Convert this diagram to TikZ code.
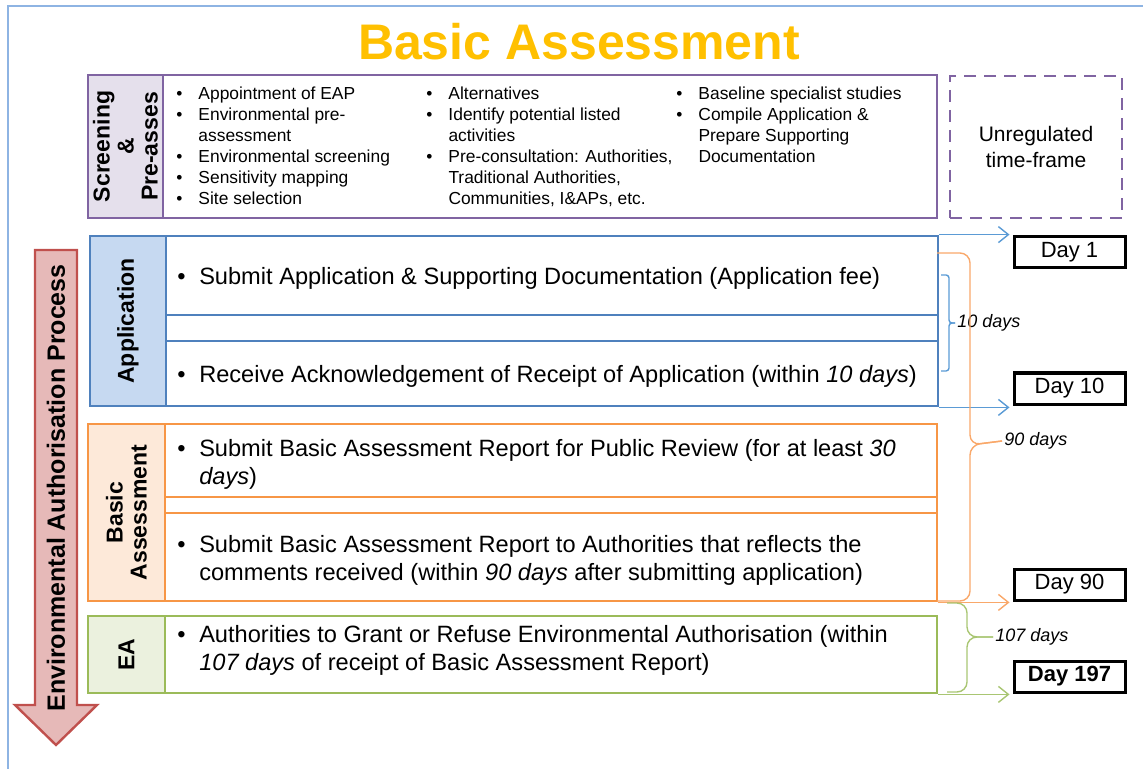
\documentclass[tikz,border=0pt]{standalone}
\usepackage{fontspec}
\setmainfont{Liberation Sans}
\usetikzlibrary{fit,positioning,arrows.meta}

\definecolor{gold}{HTML}{FFC000}
\definecolor{purp}{HTML}{8064A2}
\definecolor{purpfill}{HTML}{E5E0EC}
\definecolor{blu}{HTML}{4F81BD}
\definecolor{blufill}{HTML}{C6D9F1}
\definecolor{blulite}{HTML}{5B9BD5}
\definecolor{org}{HTML}{F79646}
\definecolor{orgfill}{HTML}{FDE9D9}
\definecolor{orglite}{HTML}{F9A86A}
\definecolor{grn}{HTML}{9BBB59}
\definecolor{grnfill}{HTML}{EBF1DE}
\definecolor{grnlite}{HTML}{A9C673}
\definecolor{arrred}{HTML}{C0504D}
\definecolor{arrfill}{HTML}{E6B9B8}
\definecolor{framebl}{HTML}{8EB4E3}

\newcommand{\bul}[2][6.8pt]{\begin{tabular}{@{}l@{\hspace{#1}}l@{}}#2\end{tabular}}

\begin{document}
\begin{tikzpicture}
		[x=0.5pt, y=-0.5pt,
		cell/.style = {draw, line width=1.4pt, inner sep=0pt},
		daybox/.style = {draw, line width=1.5pt, minimum width=55.5pt, minimum height=15.5pt, inner sep=0pt, font=\fontsize{11}{13}\selectfont},
		side/.style = {rotate=90, align=center, font=\fontsize{11.5}{12}\selectfont\bfseries},
		body/.style = {anchor=west, inner sep=0pt, font=\fontsize{11.8}{14}\selectfont},
		small/.style = {anchor=north west, inner sep=0pt, font=\fontsize{8.7}{10.5}\selectfont},
		span/.style = {anchor=west, inner sep=1pt, font=\fontsize{9}{11}\selectfont\itshape},
		thin/.style = {line width=0.7pt},
		tip/.style = {thin, -{Straight Barb[length=5pt, width=8pt]}, shorten >=1.5pt}]

		\useasboundingbox (0,0) rectangle (1143,769);
		\draw[framebl, line width=1pt] (8,769) -- (8,6) -- (1143,6);

		\node[text=gold, font=\fontsize{25}{30}\selectfont\bfseries] (title) at (579,42) {Basic Assessment};

		% screening
		\node[cell, draw=purp, fill=purpfill, fit={(88,75) (163,218)}] (scrlbl) {};
		\node[cell, draw=purp, fit={(88,75) (937,218)}] (scr) {};
		\node[side] (scrtxt) at (scrlbl.center) {Screening\\\&\\Pre-asses};
		\node[small] (col1) at (176,84) {\bul[8pt]{\textbullet & Appointment of EAP\\ \textbullet & Environmental pre-\\ & assessment\\ \textbullet & Environmental screening\\ \textbullet & Sensitivity mapping\\ \textbullet & Site selection}};
		\node[small] (col2) at (426,84) {\bul[8pt]{\textbullet & Alternatives\\ \textbullet & Identify potential listed\\ & activities\\ \textbullet & Pre-consultation: Authorities,\\ & Traditional Authorities,\\ & Communities, I\&APs, etc.}};
		\node[small] (col3) at (676,84) {\bul[8pt]{\textbullet & Baseline specialist studies\\ \textbullet & Compile Application \&\\ & Prepare Supporting\\ & Documentation}};
		\node[cell, draw=purp, dash pattern=on 6pt off 4pt, fit={(950,76) (1122,218)}] (unreg) {};
		\node[align=center, font=\fontsize{10.5}{13}\selectfont] (unregtxt) at (unreg.center) {Unregulated\\time-frame};

		% application
		\node[cell, draw=blu, fill=blufill, fit={(90,236) (166,406)}] (applbl) {};
		\node[cell, draw=blu, fit={(166,236) (938,315)}] (appa) {};
		\node[cell, draw=blu, fit={(166,341) (938,406)}] (appb) {};
		\node[cell, draw=blu, fit={(90,236) (938,406)}] (app) {};
		\node[side] (apptxt) at (applbl.center) {Application};
		\node[body] (appatxt) at (177,279) {\bul{\textbullet & Submit Application \& Supporting Documentation (Application fee)}};
		\node[body] (appbtxt) at (177,377) {\bul{\textbullet & Receive Acknowledgement of Receipt of Application (within \textit{10 days})}};

		% basic assessment
		\node[cell, draw=org, fill=orgfill, fit={(88,424) (165,601)}] (baslbl) {};
		\node[cell, draw=org, fit={(165,424) (937,497)}] (basa) {};
		\node[cell, draw=org, fit={(165,513) (937,601)}] (basb) {};
		\node[cell, draw=org, fit={(88,424) (937,601)}] (bas) {};
		\node[side] (bastxt) at (baslbl.center) {Basic\\Assessment};
		\node[body] (basatxt) at (177,465) {\bul{\textbullet & Submit Basic Assessment Report for Public Review (for at least \textit{30}\\ & \textit{days})}};
		\node[body] (basbtxt) at (177,561) {\bul{\textbullet & Submit Basic Assessment Report to Authorities that reflects the\\ & comments received (within \textit{90 days} after submitting application)}};

		% ea
		\node[cell, draw=grn, fill=grnfill, fit={(88,616) (165,693)}] (ealbl) {};
		\node[cell, draw=grn, fit={(88,616) (937,693)}] (ea) {};
		\node[side] (eatxt) at (ealbl.center) {EA};
		\node[body] (eadtxt) at (177,651) {\bul{\textbullet & Authorities to Grant or Refuse Environmental Authorisation (within\\ & \textit{107 days} of receipt of Basic Assessment Report)}};

		% process arrow
		\draw[draw=arrred, fill=arrfill, line width=1.2pt] (35,250) -- (77,250) -- (77,705) -- (97,705) -- (56,745) -- (15,705) -- (35,705) -- cycle;
		\node[font=\fontsize{12.5}{14}\selectfont\bfseries, rotate=90] (proc) at (56,488) {Environmental Authorisation Process};

		% days
		\node[daybox] (day1) at (1069.5,252.5) {Day 1};
		\node[daybox] (day10) [below = 51pt of day1] {Day 10};
		\node[daybox] (day90) [below = 81pt of day10] {Day 90};
		\node[daybox, font=\fontsize{11}{13}\selectfont\bfseries] (day197) [below = 29pt of day90] {Day 197};

		\draw[tip, blulite] (app.north east) -- (app.north east -| day1.west);
		\draw[tip, blulite] (app.south east) -- (app.south east -| day10.west);
		\draw[tip, orglite] (bas.south east) -- (bas.south east -| day90.west);
		\draw[tip, grnlite] (ea.south east) -- (ea.south east -| day197.west);

		% spans
		\node[span] (n10) at (955,323) {10 days};
		\node[span] (n90) at (1002,441) {90 days};
		\node[span] (n107) at (993,637) {107 days};
		\draw[thin, blulite, rounded corners=1.5pt] (941,275) -| (949,323) -- (n10.west);
		\draw[thin, blulite, rounded corners=1.5pt] (941,371) -| (949,323) -- (n10.west);
		\draw[thin, orglite, rounded corners=5pt] (937,253) -| (970,445) -- (n90.west);
		\draw[thin, orglite, rounded corners=5pt] (937,601) -| (970,445) -- (n90.west);
		\draw[thin, grnlite, rounded corners=5pt] (947,603) -| (967,637) -- (n107.west);
		\draw[thin, grnlite, rounded corners=5pt] (947,692) -| (967,637) -- (n107.west);
	\end{tikzpicture}
\end{document}
